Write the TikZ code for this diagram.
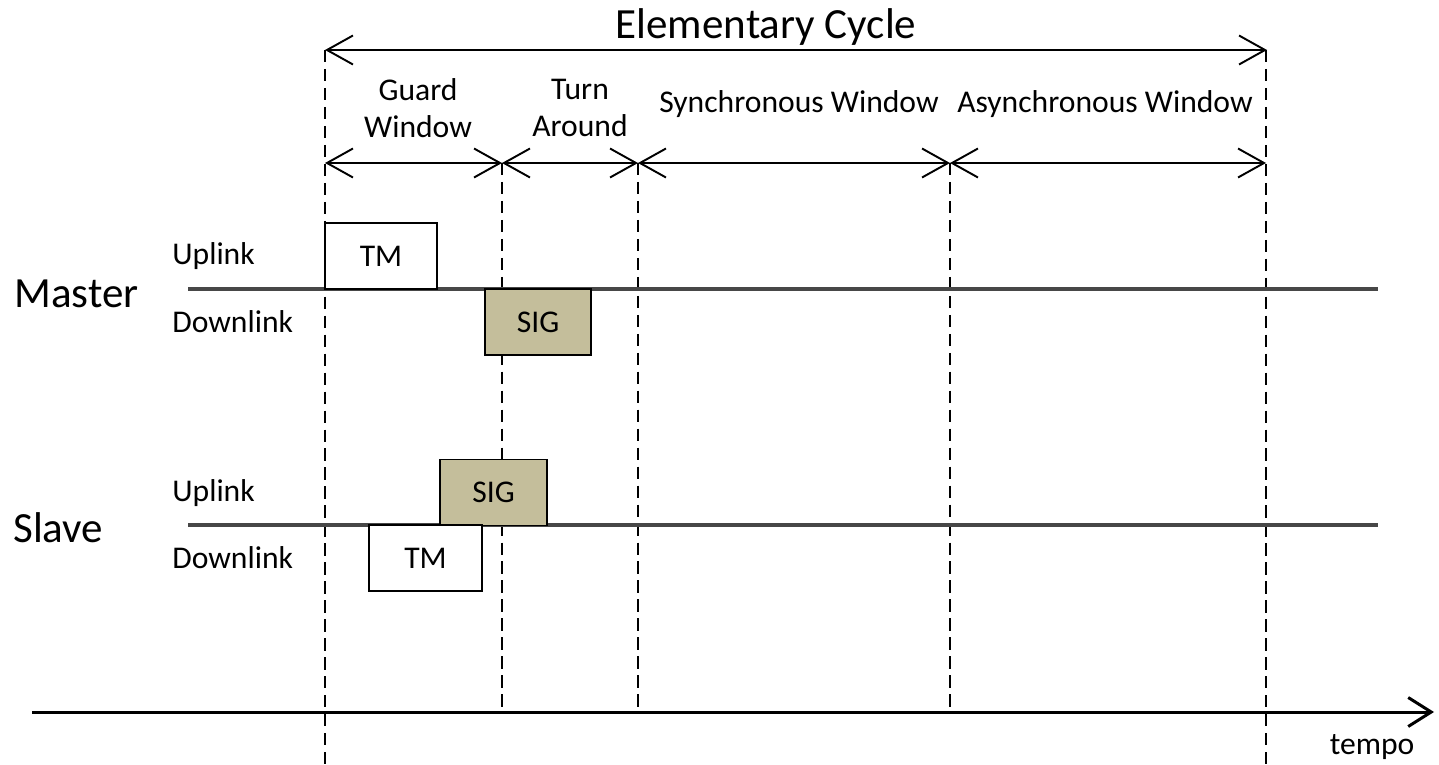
\documentclass[tikz,border=0pt]{standalone}
\usepackage{fontspec}
\setmainfont{Carlito}
\usetikzlibrary{positioning, calc, arrows.meta}
\definecolor{sigfill}{RGB}{196,190,155}
\tikzset{spanarrow/.style={{Straight Barb[length=0.52cm,width=0.58cm]}-{Straight Barb[length=0.52cm,width=0.58cm]}, line width=1.1pt}}
\tikzset{cutline/.style={dash pattern=on 7pt off 3.8pt, line width=1.1pt}}
\tikzset{slotbox/.style={draw, line width=1.1pt, minimum height=1.32cm, inner sep=0pt, font=\fontsize{18}{21}\selectfont}}
\tikzset{lane/.style={line width=1.8pt, black!72}}
\tikzset{labeltxt/.style={font=\fontsize{18}{21}\selectfont, inner sep=0pt}}
\tikzset{titletxt/.style={font=\fontsize{24.5}{28}\selectfont, inner sep=0pt}}

\begin{document}
\begin{tikzpicture}[x=0.02cm, y=-0.02cm]
      \useasboundingbox (0,0) rectangle (1439,764);

      % points on the time scale
      \coordinate (a0) at (325,50);
      \coordinate (a1) at (1267,50);
      \coordinate (b0) at (325,163);
      \coordinate (b1) at (502,163);
      \coordinate (b2) at (638,163);
      \coordinate (b3) at (950,163);
      \coordinate (b4) at (1266,163);
      \coordinate (t0) at (32,712);
      \coordinate (t1) at (1434,712);
      \coordinate (e0) at (325,764);
      \coordinate (e1) at (502,712);
      \coordinate (e2) at (638,712);
      \coordinate (e3) at (950,712);
      \coordinate (e4) at (1266,764);
      \coordinate (m0) at (188,289);
      \coordinate (m1) at (1378,289);
      \coordinate (s0) at (188,525);
      \coordinate (s1) at (1378,525);

      \draw[cutline] (a0) -- (e0);
      \draw[cutline] (b1) -- (e1);
      \draw[cutline] (b2) -- (e2);
      \draw[cutline] (b3) -- (e3);
      \draw[cutline] ($(a1)+(-1,0)$) -- (e4);

      \draw[spanarrow] (a0) -- (a1);
      \draw[spanarrow] (b0) -- (b1);
      \draw[spanarrow] (b1) -- (b2);
      \draw[spanarrow] (b2) -- (b3);
      \draw[spanarrow] (b3) -- (b4);

      \node[titletxt] (cycle) at (766,27) {Elementary Cycle};
      \node[labeltxt, align=center] (guard) at (418,108) {Guard\\Window};
      \node[labeltxt, align=center] (turn) at (580,108) {Turn\\Around};
      \node[labeltxt] (sync) at (799,104) {Synchronous Window};
      \node[labeltxt] (async) at (1105,104) {Asynchronous Window};

      \draw[lane] (m0) -- (m1);
      \draw[lane] (s0) -- (s1);

      \node[titletxt, anchor=west] (master) at (14,294) {Master};
      \node[labeltxt, anchor=west] (mup) at (172,256) {Uplink};
      \node[labeltxt, anchor=west] (mdown) at (172,322) {Downlink};
      \node[titletxt, anchor=west] (slave) at (13,528) {Slave};
      \node[labeltxt, anchor=west] (slup) at (172,493) {Uplink};
      \node[labeltxt, anchor=west] (sldown) at (172,558) {Downlink};

      \node[slotbox, fill=white, minimum width=2.24cm] (mtm) at (381,256) {TM};
      \node[slotbox, fill=sigfill, minimum width=2.12cm] (msig) at (538,322) {SIG};
      \node[slotbox, fill=sigfill, minimum width=2.14cm] (ssig) at (493.5,492.5) {SIG};
      \node[slotbox, fill=white, minimum width=2.26cm] (stm) at (425.5,558) {TM};

      \draw[line width=1.7pt, -{Straight Barb[length=0.46cm,width=0.58cm]}] (t0) -- (t1);
      \node[labeltxt, anchor=base] (tempo) at (1372,754) {tempo};
    \end{tikzpicture}
\end{document}
